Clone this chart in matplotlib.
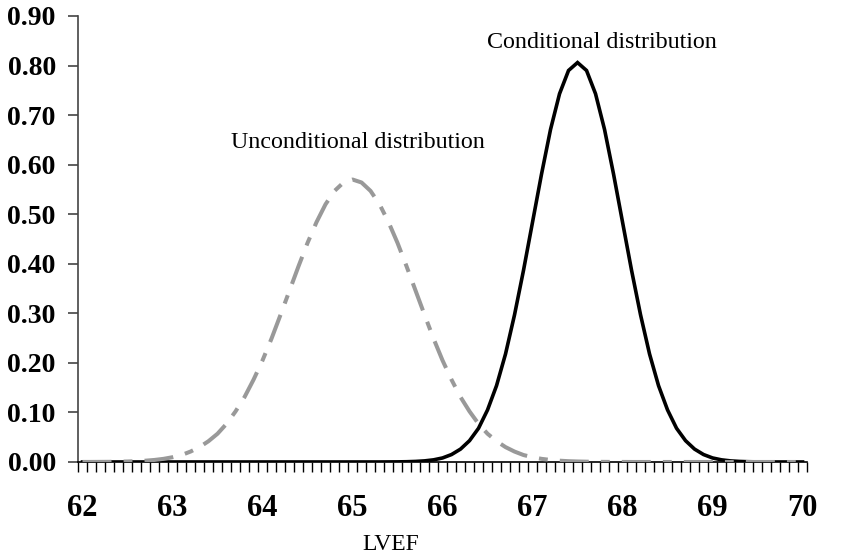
import matplotlib
matplotlib.use("Agg")
import matplotlib.pyplot as plt

# LVEF grid 62.0 .. 70.0 step 0.1 (81 categories)
lvef = [round(62 + 0.1 * i, 1) for i in range(81)]

# Unconditional distribution, 62.0 .. 70.0
unconditional = [
    0.0001, 0.0001, 0.0002, 0.0003, 0.0006, 0.0010, 0.0016, 0.0026, 0.0041, 0.0063,  # 62.0-62.9
    0.0096, 0.014, 0.021, 0.030, 0.042, 0.057, 0.077, 0.102, 0.131, 0.166,          # 63.0-63.9
    0.205, 0.249, 0.297, 0.346, 0.395, 0.442, 0.484, 0.520, 0.547, 0.564,           # 64.0-64.9
    0.570, 0.564, 0.547, 0.520, 0.484, 0.442, 0.395, 0.346, 0.297, 0.249,           # 65.0-65.9
    0.205, 0.166, 0.131, 0.102, 0.077, 0.057, 0.042, 0.030, 0.021, 0.014,           # 66.0-66.9
    0.0096, 0.0063, 0.0041, 0.0026, 0.0016, 0.0010, 0.0006, 0.0003, 0.0002, 0.0001, # 67.0-67.9
    0.0001, 0.0, 0.0, 0.0, 0.0, 0.0, 0.0, 0.0, 0.0, 0.0,                             # 68.0-68.9
    0.0, 0.0, 0.0, 0.0, 0.0, 0.0, 0.0, 0.0, 0.0, 0.0,                                # 69.0-69.9
    0.0,                                                                             # 70.0
]

# Conditional distribution, 62.0 .. 70.0
conditional = [
    0.0, 0.0, 0.0, 0.0, 0.0, 0.0, 0.0, 0.0, 0.0, 0.0,                                # 62
    0.0, 0.0, 0.0, 0.0, 0.0, 0.0, 0.0, 0.0, 0.0, 0.0,                                # 63
    0.0, 0.0, 0.0, 0.0, 0.0, 0.0, 0.0, 0.0, 0.0, 0.0,                                # 64
    0.0, 0.0, 0.0, 0.0, 0.0001, 0.0002, 0.0005, 0.0011, 0.0022, 0.0043,              # 65
    0.0081, 0.015, 0.026, 0.043, 0.068, 0.105, 0.154, 0.218, 0.297, 0.387,           # 66
    0.484, 0.581, 0.671, 0.743, 0.790, 0.806, 0.790, 0.743, 0.671, 0.581,           # 67
    0.484, 0.387, 0.297, 0.218, 0.154, 0.105, 0.068, 0.043, 0.026, 0.015,           # 68
    0.0081, 0.0043, 0.0022, 0.0011, 0.0005, 0.0002, 0.0001, 0.0, 0.0, 0.0,           # 69
    0.0,                                                                             # 70
]

y_ticks = [0.0, 0.1, 0.2, 0.3, 0.4, 0.5, 0.6, 0.7, 0.8, 0.9]
x_labels = [62, 63, 64, 65, 66, 67, 68, 69, 70]

serif = ["Liberation Serif", "DejaVu Serif"]

fig = plt.figure(figsize=(8.48, 5.57), dpi=100)
ax = fig.add_axes([0.092, 0.1706, 0.8597, 0.8007])

ax.plot(lvef, conditional, color="black", lw=2.6, zorder=4,
        solid_joinstyle="miter")
ax.plot(lvef, unconditional, color="#999999", lw=2.9,
        linestyle=(0, (7.2, 3.0, 2.2, 3.0)), zorder=5)

ax.set_xlim(61.95, 70.05)
ax.set_ylim(0, 0.9)

ax.spines["top"].set_visible(False)
ax.spines["right"].set_visible(False)
ax.spines["left"].set_color("#444444")
ax.spines["left"].set_linewidth(1.2)
ax.spines["bottom"].set_color("black")
ax.spines["bottom"].set_linewidth(1.2)

ax.set_yticks(y_ticks)
ax.set_yticklabels([f"{v:.2f}" for v in y_ticks], fontfamily=serif,
                   fontweight="bold", fontsize=20)
ax.tick_params(axis="y", direction="out", length=7, width=1.2, color="#444444", pad=9)

ax.set_xticks(x_labels)
ax.set_xticklabels([str(v) for v in x_labels], fontfamily=serif,
                   fontweight="bold", fontsize=22)
ax.tick_params(axis="x", which="major", length=0, pad=23)
ax.set_xticks([61.95 + 0.1 * i for i in range(82)], minor=True)
ax.tick_params(axis="x", which="minor", direction="out", length=7, width=1.0, color="black")

fig.text(391 / 848, 1 - 545 / 557, "LVEF", fontfamily=serif, fontsize=17,
         ha="center", va="center")
fig.text(602 / 848, 1 - 42 / 557, "Conditional distribution", fontfamily=serif,
         fontsize=17.3, ha="center", va="center")
fig.text(358 / 848, 1 - 143 / 557, "Unconditional distribution", fontfamily=serif,
         fontsize=17.3, ha="center", va="center")

fig.savefig("out.png", dpi=100)
